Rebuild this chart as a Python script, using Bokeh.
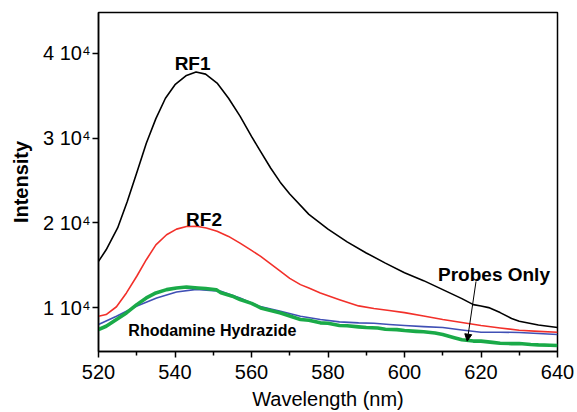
from bokeh.plotting import figure
from bokeh.models import FixedTicker, Label, Arrow, NormalHead, Range1d
from bokeh.embed import file_html
from bokeh.resources import INLINE

FONT = "Liberation Sans"

# ---- data ----
wl_black = [520, 522, 525, 527.5, 530, 532.5, 535, 537.5, 540, 543, 545.5, 548, 551,
            554, 557, 560, 562, 565, 567.5, 570, 575, 580, 585, 590, 595, 600, 605,
            610, 615, 618, 620, 622, 625, 628, 630, 635, 640]
rf1 = [15450, 16820, 19400, 22500, 25900, 29400, 32300, 34700, 36300, 37400, 37800,
       37550, 36500, 34700, 32600, 30200, 28700, 26470, 24800, 23400, 21000, 19250,
       17750, 16450, 15250, 14120, 13180, 12120, 11060, 10350, 10180, 10000, 9410,
       8710, 8390, 7940, 7650]

wl_red = [520, 522, 524.7, 527.3, 530, 532.5, 535, 537.8, 540.4, 543, 545.6, 548.2,
          551, 554, 557, 560, 562.4, 565, 567.6, 570, 572.8, 575, 578, 583, 588, 592,
          596, 600, 605, 610, 615, 620, 625, 630, 635, 640]
rf2 = [8980, 9180, 10100, 11730, 13700, 15650, 17400, 18600, 19260, 19570, 19600,
       19400, 19000, 18400, 17610, 16750, 16040, 15150, 14270, 13450, 12710, 12300,
       11730, 10940, 10200, 9900, 9650, 9410, 9000, 8590, 8250, 7880, 7600, 7330,
       7200, 7100]

wl_blue = [520, 524.7, 529.9, 535.2, 540.4, 545.6, 550, 552, 557, 562, 567.6, 572.8,
           578, 583, 588, 592, 596, 600, 605, 610, 615, 620, 625, 630, 635, 640]
probes = [8000, 8980, 10160, 11140, 11850, 12150, 12000, 11920, 11140, 10160, 9570,
          8980, 8590, 8320, 8200, 8150, 8000, 7880, 7750, 7650, 7350, 7100, 7100,
          7060, 6950, 6820]

wl_green = [520, 522, 524.7, 527.3, 530, 532.5, 535, 537.8, 540.4, 543, 546, 548,
            550.8, 552, 555, 557, 560, 562.4, 565, 567.6, 570, 572.8, 575, 578, 580,
            583, 585, 588, 590, 593, 595, 598, 600, 603, 605, 608, 610, 613, 615, 618,
            620, 623, 625, 628, 630, 633, 635, 638, 640]
rhodamine = [7410, 7800, 8590, 9370, 10350, 11140, 11730, 12120, 12320, 12430, 12320,
             12250, 12100, 11750, 11350, 10950, 10500, 9960, 9650, 9370, 9000, 8590,
             8500, 8200, 8150, 7880, 7850, 7730, 7650, 7600, 7450, 7400, 7290, 7200,
             7150, 7000, 6820, 6450, 6200, 6050, 6040, 5900, 5800, 5750, 5760, 5650,
             5600, 5560, 5530]

x_ticks = [520, 540, 560, 580, 600, 620, 640]
x_minor = [530, 550, 570, 590, 610, 630]
y_ticks = [10000, 20000, 30000, 40000]
y_labels = ["1 10\u2074", "2 10\u2074", "3 10\u2074", "4 10\u2074"]

p = figure(width=577, height=412, output_backend="svg", toolbar_location=None,
           x_range=Range1d(520, 640), y_range=Range1d(4820, 44820),
           min_border_left=98, min_border_right=20, min_border_top=12,
           min_border_bottom=60)
p.background_fill_color = "white"
p.border_fill_color = "white"
p.grid.visible = False
p.outline_line_color = "black"
p.outline_line_width = 1.5

p.line(wl_black, rf1, line_color="black", line_width=1.6, line_join="round")
p.line(wl_red, rf2, line_color="#f2302a", line_width=1.6, line_join="round")
p.line(wl_blue, probes, line_color="#4050b5", line_width=1.6, line_join="round")
p.line(wl_green, rhodamine, line_color="#1aaa48", line_width=3.6, line_join="round")

xa = p.xaxis[0]
xa.ticker = FixedTicker(ticks=x_ticks, minor_ticks=x_minor)
ya = p.yaxis[0]
ya.ticker = FixedTicker(ticks=y_ticks, minor_ticks=[])
ya.major_label_overrides = {t: l for t, l in zip(y_ticks, y_labels)}

for ax in (xa, ya):
    ax.axis_line_width = 1.5
    ax.axis_line_color = "black"
    ax.major_tick_in = 0
    ax.major_tick_out = 6
    ax.minor_tick_in = 0
    ax.minor_tick_out = 4
    ax.major_tick_line_width = 1.5
    ax.minor_tick_line_width = 1.5
    ax.major_label_text_font = FONT
    ax.major_label_text_font_size = "20px"
    ax.major_label_text_color = "black"
    ax.axis_label_text_font = FONT
    ax.axis_label_text_font_size = "20px"
    ax.axis_label_text_color = "black"

xa.axis_label = "Wavelength (nm)"
xa.axis_label_text_font_style = "normal"
xa.major_label_standoff = 7
xa.axis_label_standoff = 6
ya.axis_label = "Intensity"
ya.axis_label_text_font_style = "bold"
ya.major_label_standoff = 2
ya.axis_label_standoff = 8

def lab(x, y, t, size, align="center"):
    p.add_layout(Label(x=x, y=y, text=t, text_font=FONT, text_font_size=size,
                       text_font_style="bold", text_color="black",
                       text_align=align, text_baseline="alphabetic"))

lab(544.6, 38820, "RF1", "19px")
lab(547.6, 20350, "RF2", "19px")
lab(527.8, 7290, "Rhodamine Hydrazide", "16px", align="left")
lab(623.4, 13880, "Probes Only", "19px")

p.add_layout(Arrow(x_start=618.7, y_start=13090, x_end=616.4, y_end=6040,
                   line_color="black", line_width=1,
                   end=NormalHead(size=7, fill_color="black", line_color="black")))

open("out.html", "w").write(file_html(p, INLINE))
